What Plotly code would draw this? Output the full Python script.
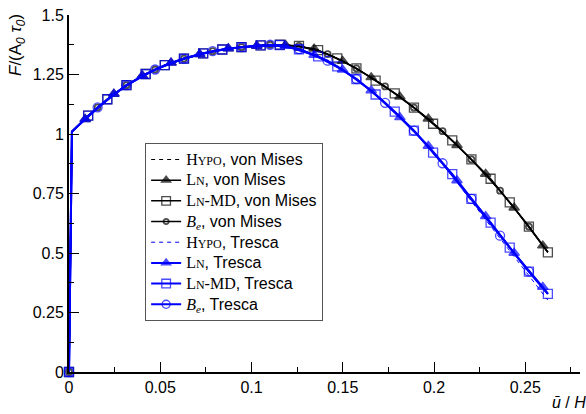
import plotly.graph_objects as go

# ---------------- data ----------------
KX = 0.0016   # end of the initial (elastic) branch
KY = 1.01

# LN-MD (square markers)
sq_x = [0, KX, 0.0105, 0.021, 0.0315, 0.042, 0.0525, 0.063, 0.0735, 0.084, 0.0945,
        0.105, 0.1155, 0.126, 0.1365, 0.147, 0.1575, 0.168, 0.1785, 0.189, 0.1995,
        0.21, 0.2205, 0.231, 0.2415, 0.252, 0.2624]
sq_vm = [0, KY, 1.077, 1.146, 1.205, 1.252, 1.289, 1.317, 1.339, 1.355, 1.365,
         1.372, 1.375, 1.370, 1.352, 1.318, 1.276, 1.224, 1.171, 1.111, 1.043,
         0.973, 0.893, 0.812, 0.713, 0.611, 0.503]
sq_tr = [0, KY, 1.077, 1.146, 1.205, 1.252, 1.289, 1.317, 1.339, 1.355, 1.365,
         1.372, 1.374, 1.356, 1.326, 1.284, 1.231, 1.166, 1.094, 1.014, 0.922,
         0.831, 0.727, 0.628, 0.523, 0.422, 0.328]
sq_show = [1, 0] + [1] * 25

# LN (triangle markers)
tri_x = [0, KX, 0.0089, 0.0246, 0.0402, 0.0559, 0.0716, 0.0873, 0.1029, 0.1186,
         0.1343, 0.1499, 0.1656, 0.1813, 0.1969, 0.2126, 0.2283, 0.2439, 0.2596, 0.2624]
tri_vm = [0, KY, 1.062, 1.168, 1.245, 1.299, 1.335, 1.359, 1.370, 1.374,
          1.358, 1.307, 1.238, 1.157, 1.064, 0.953, 0.832, 0.690, 0.531, 0.503]
tri_tr = [0, KY, 1.062, 1.168, 1.245, 1.299, 1.335, 1.359, 1.370, 1.370,
          1.332, 1.270, 1.183, 1.070, 0.950, 0.805, 0.654, 0.500, 0.357, 0.328]
tri_show = [0, 0] + [1] * 17 + [0]

# B_e (circle markers)
ci_x = [0, KX, 0.0157, 0.0315, 0.0472, 0.063, 0.0787, 0.0945, 0.1102, 0.126,
        0.1417, 0.1575, 0.1732, 0.189, 0.2047, 0.2205, 0.2362, 0.252, 0.2624]
ci_vm = [0, KY, 1.112, 1.205, 1.271, 1.317, 1.348, 1.365, 1.375, 1.370,
         1.336, 1.276, 1.200, 1.111, 1.012, 0.893, 0.762, 0.611, 0.503]
ci_tr = [0, KY, 1.112, 1.205, 1.271, 1.317, 1.348, 1.365, 1.375, 1.357,
         1.308, 1.231, 1.131, 1.014, 0.877, 0.727, 0.573, 0.422, 0.328]
ci_show = [1, 0] + [1] * 16 + [0]

# HYPO (dashed, no markers)
hy_x = sq_x
hy_vm = sq_vm
hy_tr = [0, KY, 1.077, 1.146, 1.205, 1.252, 1.289, 1.317, 1.339, 1.355, 1.365,
         1.372, 1.374, 1.356, 1.326, 1.284, 1.231, 1.166, 1.094, 1.014, 0.918,
         0.824, 0.717, 0.613, 0.505, 0.400, 0.302]

x_ticks = [0, 0.05, 0.1, 0.15, 0.2, 0.25]
x_ticktext = ["0", "0.05", "0.1", "0.15", "0.2", "0.25"]
x_minor = [0.025, 0.075, 0.125, 0.175, 0.225, 0.275]
y_ticks = [0, 0.25, 0.5, 0.75, 1, 1.25, 1.5]
y_ticktext = ["0", "0.25", "0.5", "0.75", "1", "1.25", "1.5"]
y_minor = [0.125, 0.375, 0.625, 0.875, 1.125, 1.375]

# ---------------- names ----------------
SERIF = "font-family:Liberation Serif"
SC = "font-size:12px"
HYPO = f'<span style="{SERIF}">H<span style="{SC}">YPO</span></span>'
LN = f'<span style="{SERIF}">L<span style="{SC}">N</span></span>'
LNMD = f'<span style="{SERIF}">L<span style="{SC}">N</span>-MD</span>'
BE = f'<span style="{SERIF}"><i>B</i><sub><i>e</i></sub></span>'


def big(s):
    return f'<span style="font-size:16px">{s}</span>'


BLACK = "#000000"
BLUE = "#0000ff"


def sizes(show, s):
    return [s if v else 0 for v in show]


fig = go.Figure()

def add_series(x, y, name, color, lw, symbol=None, msize=None, show=None, dash=None,
               mlw=1.5):
    if symbol is None:
        fig.add_trace(go.Scatter(x=x, y=y, name=big(name), mode="lines",
                                 line=dict(color=color, width=lw, dash=dash),
                                 cliponaxis=False))
    else:
        fig.add_trace(go.Scatter(
            x=x, y=y, name=big(name), mode="lines+markers",
            line=dict(color=color, width=lw),
            marker=dict(symbol=symbol, size=sizes(show, msize), color=color,
                        line=dict(color=color, width=mlw)),
            cliponaxis=False))

# von Mises (black)
add_series(hy_x, hy_vm, f"{HYPO}, von Mises", BLACK, 1, dash="4px,4px")
add_series(tri_x, tri_vm, f"{LN}, von Mises", BLACK, 1.5, "triangle-up", 9, tri_show)
add_series(sq_x, sq_vm, f"{LNMD}, von Mises", BLACK, 1.5, "square-open", 9, sq_show, mlw=1.3)
add_series(ci_x, ci_vm, f"{BE}, von Mises", BLACK, 1.5, "circle-open", 6, ci_show, mlw=1.8)
# Tresca (blue)
add_series(hy_x, hy_tr, f"{HYPO}, Tresca", BLUE, 1, dash="4px,4px")
add_series(tri_x, tri_tr, f"{LN}, Tresca", BLUE, 2, "triangle-up", 9, tri_show)
add_series(sq_x, sq_tr, f"{LNMD}, Tresca", BLUE, 2, "square-open", 9, sq_show, mlw=1.3)
add_series(ci_x, ci_tr, f"{BE}, Tresca", BLUE, 2, "circle-open", 9, ci_show, mlw=1.3)

L, R, T, B = 69, 6, 15, 42
fig.update_layout(
    width=586, height=414,
    margin=dict(l=L, r=R, t=T, b=B, pad=0),
    paper_bgcolor="white", plot_bgcolor="white",
    font=dict(family="Liberation Sans, Arial, sans-serif", size=16, color="black"),
    showlegend=True,
    legend=dict(x=0.149, y=0.641, xanchor="left", yanchor="top",
                bgcolor="white", bordercolor="#555555", borderwidth=1,
                font=dict(family="Liberation Sans, Arial, sans-serif", size=13.6,
                          color="black"),
                tracegroupgap=0, itemwidth=30),
    xaxis=dict(range=[0, 0.28], showgrid=False, zeroline=False,
               showline=True, linecolor="black", linewidth=2,
               ticks="inside", ticklen=10, tickwidth=1, tickcolor="black",
               tickmode="array", tickvals=x_ticks, ticktext=x_ticktext,
               minor=dict(ticks="inside", ticklen=5, tickwidth=1, tickcolor="black",
                          tickmode="array", tickvals=x_minor),
               tickfont=dict(size=16)),
    yaxis=dict(range=[0, 1.5], showgrid=False, zeroline=False,
               showline=True, linecolor="black", linewidth=2,
               ticks="inside", ticklen=10, tickwidth=1, tickcolor="black",
               tickmode="array", tickvals=y_ticks, ticktext=y_ticktext,
               minor=dict(ticks="inside", ticklen=5, tickwidth=1, tickcolor="black",
                          tickmode="array", tickvals=y_minor),
               tickfont=dict(size=16)),
)

pw = 586 - L - R
ph = 414 - T - B
fig.add_annotation(text="<i>F</i>/(A<sub><i>0</i></sub> <i>τ</i><sub><i>0</i></sub>)",
                   xref="paper", yref="paper", x=(17 - L) / pw, y=(414 - B - 12) / ph,
                   xanchor="center", yanchor="top", textangle=-90, showarrow=False,
                   font=dict(size=17))
fig.add_annotation(text="<i>ū</i> / <i>H</i>",
                   xref="paper", yref="paper", x=(550 - L) / pw, y=(414 - B - 402) / ph,
                   xanchor="left", yanchor="middle", showarrow=False,
                   font=dict(size=16))

fig.write_html("out.html")
